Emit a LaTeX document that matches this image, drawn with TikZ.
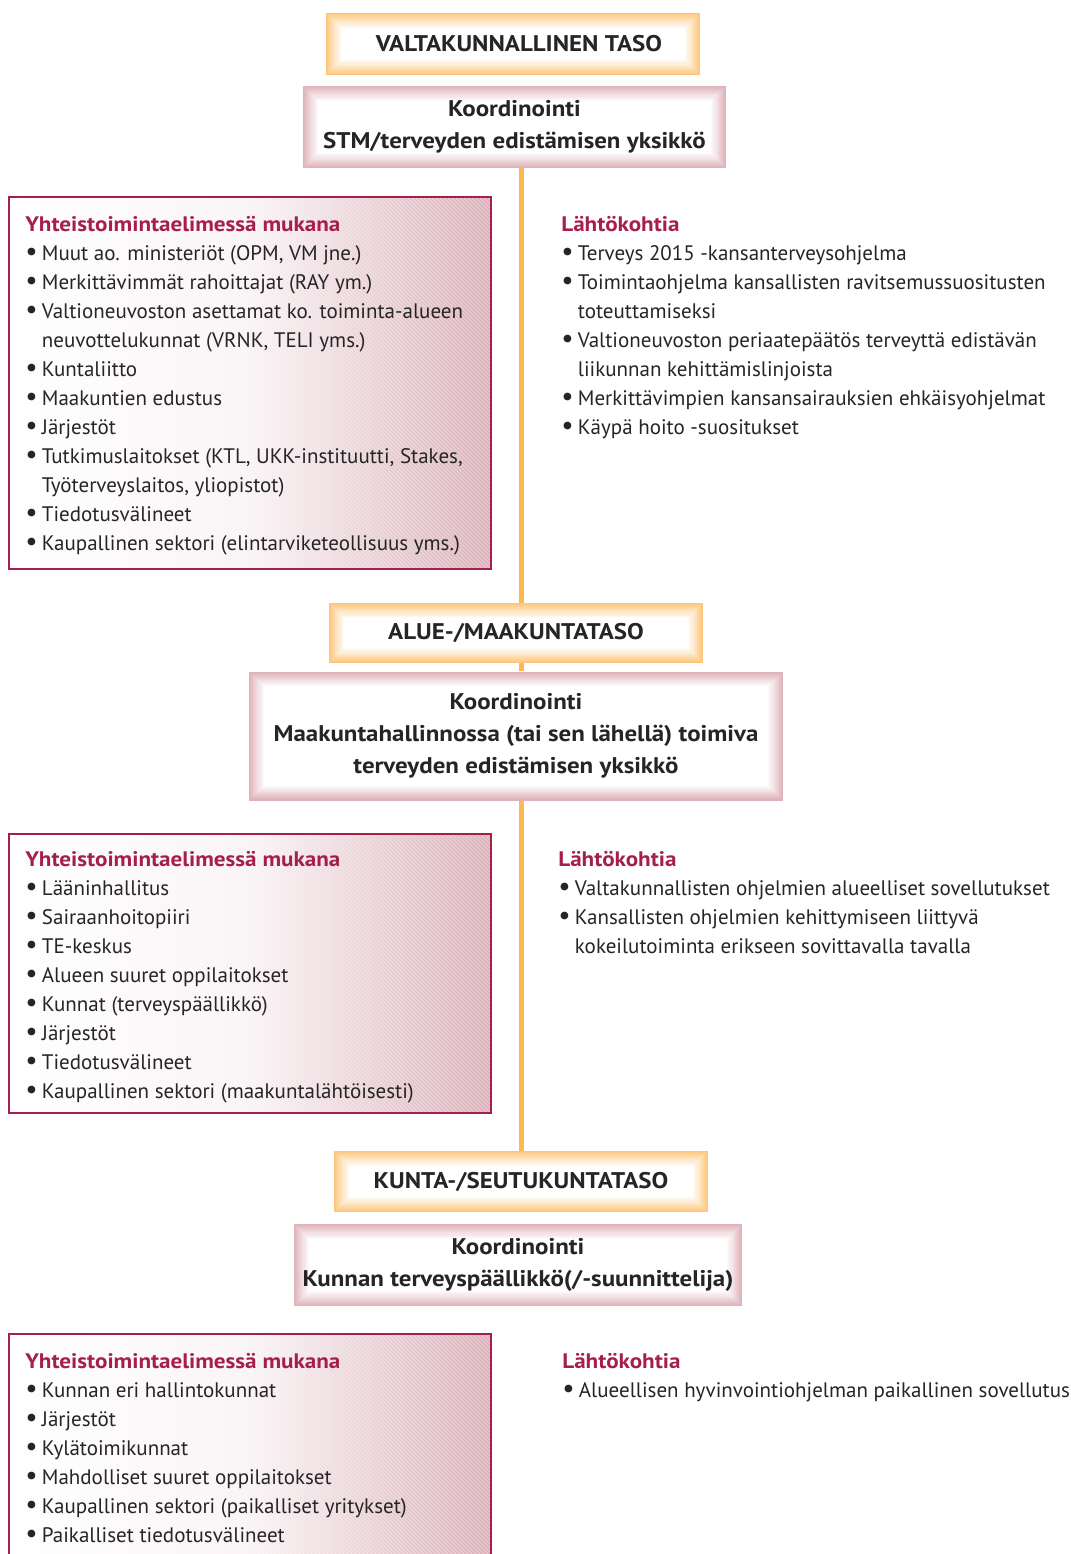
\documentclass[tikz,border=0pt]{standalone}
\usepackage{fontspec}
\setmainfont{PT Sans}[BoldFeatures={FakeStretch=1.1}]
\usetikzlibrary{patterns}
\definecolor{txt}{HTML}{262425}
\definecolor{crim}{HTML}{A61E4D}
\definecolor{orng}{HTML}{FDC57A}
\definecolor{pnk}{HTML}{DDB2B9}
\definecolor{lineo}{HTML}{FDB850}
\definecolor{boxpink}{HTML}{DDB1BA}
\newcommand\bu{\makebox[11pt][l]{\hspace*{-1.5pt}\raisebox{-0.5pt}{\scalebox{1.3}{•}}}}
\newcommand\cn{\hspace*{11pt}}
\newcommand\itemlist[4]{\foreach \t [count=\k] in {#4} {\node[itemtxt] (#1-\k) at (#2,{#3+29*(\k-1)}) {\t};}}
\tikzset{
  glow/.style 2 args={path picture={
    \foreach \i in {0,...,14}{
      \pgfmathtruncatemacro\pc{100-\i*100/14}
      \fill[#1!\pc!white] ([shift={(\i*#2,\i*#2)}]path picture bounding box.north west)
        rectangle ([shift={(-\i*#2,-\i*#2)}]path picture bounding box.south east);}}},
  obox/.style={rectangle, inner sep=0pt, align=center, text=txt,
    font=\fontsize{17}{24}\selectfont\bfseries, glow={orng}{1.05}},
  pbox/.style={rectangle, inner sep=0pt, align=center, text=txt,
    font=\fontsize{17}{24}\selectfont\bfseries, glow={pnk}{1.05}},
  lbox/.style={rectangle, draw=crim, line width=1.1pt, inner sep=0pt,
    minimum width=361.5pt,
    left color=white, right color=boxpink, middle color=white!85!boxpink,
    path picture={\fill[pattern=north west lines, pattern color=white, opacity=0.45]
      (path picture bounding box.south west) rectangle (path picture bounding box.north east);}},
  itemtxt/.style={anchor=base west, inner sep=0pt, text=txt, font=\fontsize{15.75}{18}\selectfont},
  head/.style={anchor=base west, inner sep=0pt, text=crim, font=\fontsize{15.75}{18}\selectfont\bfseries},
  vline/.style={draw=lineo, line width=3.75pt}
}
\begin{document}
\begin{tikzpicture}[x=0.75pt,y=-0.75pt]
\clip (0,0) rectangle (1071,1554);
\fill[white] (0,0) rectangle (1071,1554);
\coordinate (lx) at (521,0);

% ---- national level
\node[obox, minimum width=280.5pt, minimum height=46.5pt] (o1) at (513,44) {\hspace*{9pt}VALTAKUNNALLINEN TASO};
\node[pbox, minimum width=317.25pt, minimum height=61.5pt] (p1) at (514.5,127) {Koordinointi\\STM/terveyden edistämisen yksikkö};

\node[lbox, minimum height=279pt] (L1) at (250,383) {};
\node[head] (h1) at (25,231) {Yhteistoimintaelimessä mukana};
\itemlist{a}{27}{260}{{\bu Muut ao. ministeriöt (OPM, VM jne.)},
 {\bu Merkittävimmät rahoittajat (RAY ym.)},
 {\bu Valtioneuvoston asettamat ko. toiminta-alueen},
 {\cn neuvottelukunnat (VRNK, TELI yms.)},
 {\bu Kuntaliitto},
 {\bu Maakuntien edustus},
 {\bu Järjestöt},
 {\bu Tutkimuslaitokset (KTL, UKK-instituutti, Stakes,},
 {\cn Työterveyslaitos, yliopistot)},
 {\bu Tiedotusvälineet},
 {\bu Kaupallinen sektori (elintarviketeollisuus yms.)}}

\node[head] (r1) at (561,231) {Lähtökohtia};
\itemlist{b}{563}{260}{{\bu Terveys 2015 -kansanterveysohjelma},
 {\bu Toimintaohjelma kansallisten ravitsemussuositusten},
 {\cn toteuttamiseksi},
 {\bu Valtioneuvoston periaatepäätös terveyttä edistävän},
 {\cn liikunnan kehittämislinjoista},
 {\bu Merkittävimpien kansansairauksien ehkäisyohjelmat},
 {\bu Käypä hoito -suositukset}}

% ---- regional level
\node[obox, minimum width=280.5pt, minimum height=45pt] (o2) at (516,633) {ALUE-/MAAKUNTATASO};
\node[pbox, minimum width=400.5pt, minimum height=96.75pt] (p2) at (516,736) {Koordinointi\\Maakuntahallinnossa (tai sen lähellä) toimiva\\terveyden edistämisen yksikkö};

\node[lbox, minimum height=209.25pt] (L2) at (250,973.5) {};
\node[head] (h2) at (25,866) {Yhteistoimintaelimessä mukana};
\itemlist{c}{27}{895}{{\bu Lääninhallitus},
 {\bu Sairaanhoitopiiri},
 {\bu TE-keskus},
 {\bu Alueen suuret oppilaitokset},
 {\bu Kunnat (terveyspäällikkö)},
 {\bu Järjestöt},
 {\bu Tiedotusvälineet},
 {\bu Kaupallinen sektori (maakuntalähtöisesti)}}

\node[head] (r2) at (558,866) {Lähtökohtia};
\itemlist{d}{560}{895}{{\bu Valtakunnallisten ohjelmien alueelliset sovellutukset},
 {\bu Kansallisten ohjelmien kehittymiseen liittyvä},
 {\cn kokeilutoiminta erikseen sovittavalla tavalla}}

% ---- municipal level
\node[obox, minimum width=280.5pt, minimum height=45.75pt] (o3) at (521,1181.5) {KUNTA-/SEUTUKUNTATASO};
\node[pbox, minimum width=336pt, minimum height=61.5pt] (p3) at (518,1265) {Koordinointi\\Kunnan terveyspäällikkö(/-suunnittelija)};

\node[lbox, minimum height=177pt] (L3) at (250,1452) {};
\node[head] (h3) at (25,1368) {Yhteistoimintaelimessä mukana};
\itemlist{e}{27}{1397}{{\bu Kunnan eri hallintokunnat},
 {\bu Järjestöt},
 {\bu Kylätoimikunnat},
 {\bu Mahdolliset suuret oppilaitokset},
 {\bu Kaupallinen sektori (paikalliset yritykset)},
 {\bu Paikalliset tiedotusvälineet}}

\node[head] (r3) at (562,1368) {Lähtökohtia};
\itemlist{f}{564}{1397}{{\bu Alueellisen hyvinvointiohjelman paikallinen sovellutus}}

% ---- connector
\draw[vline] (p1.south -| lx) -- (o2.north -| lx);
\draw[vline] (o2.south -| lx) -- (p2.north -| lx);
\draw[vline] (p2.south -| lx) -- (o3.north -| lx);
\end{tikzpicture}
\end{document}
